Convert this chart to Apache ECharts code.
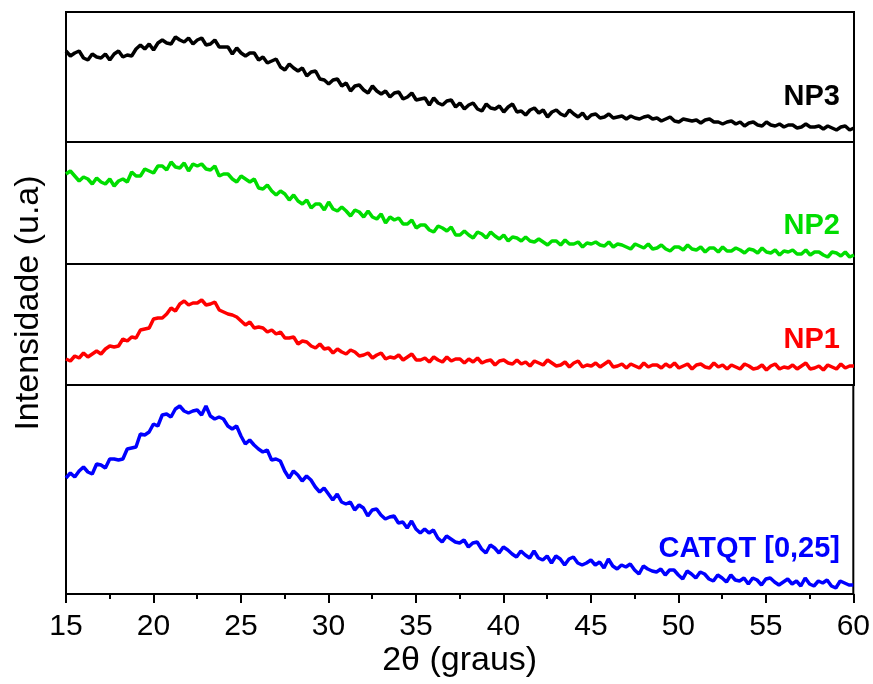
<!DOCTYPE html>
<html><head><meta charset="utf-8">
<script src="https://cdn.jsdelivr.net/npm/echarts@6/dist/echarts.min.js"></script>
<style>html,body{margin:0;padding:0;background:#fff}#c{width:873px;height:684px}</style>
</head><body><div id="c"></div>
<script>
// 2θ angles (degrees)
const angles = [
15,15.25,15.5,15.75,16,16.25,16.5,16.75,17,17.25,17.5,17.75,18,18.25,18.5,18.75,19,19.25,19.5,19.75,
20,20.25,20.5,20.75,21,21.25,21.5,21.75,22,22.25,22.5,22.75,23,23.25,23.5,23.75,24,24.25,24.5,24.75,
25,25.25,25.5,25.75,26,26.25,26.5,26.75,27,27.25,27.5,27.75,28,28.25,28.5,28.75,29,29.25,29.5,29.75,
30,30.25,30.5,30.75,31,31.25,31.5,31.75,32,32.25,32.5,32.75,33,33.25,33.5,33.75,34,34.25,34.5,34.75,
35,35.25,35.5,35.75,36,36.25,36.5,36.75,37,37.25,37.5,37.75,38,38.25,38.5,38.75,39,39.25,39.5,39.75,
40,40.25,40.5,40.75,41,41.25,41.5,41.75,42,42.25,42.5,42.75,43,43.25,43.5,43.75,44,44.25,44.5,44.75,
45,45.25,45.5,45.75,46,46.25,46.5,46.75,47,47.25,47.5,47.75,48,48.25,48.5,48.75,49,49.25,49.5,49.75,
50,50.25,50.5,50.75,51,51.25,51.5,51.75,52,52.25,52.5,52.75,53,53.25,53.5,53.75,54,54.25,54.5,54.75,
55,55.25,55.5,55.75,56,56.25,56.5,56.75,57,57.25,57.5,57.75,58,58.25,58.5,58.75,59,59.25,59.5,59.75,
60];
// intensities (a.u., offset within each stacked panel), one value per angle
const np3 = [
91,86,89,91, 84,82,88,85, 84,88,82,88, 91,85,87,86, 93,97,93,98,
92,99,102,99, 98,105,102,100, 104,98,102,104, 97,98,102,95, 95,95,88,94,
89,86,89,89, 82,85,79,81, 83,75,72,78, 74,71,74,66, 70,71,63,62,
58,62,63,56, 59,51,56,57, 52,49,56,51, 48,51,45,49, 50,43,45,49,
42,43,44,37, 44,39,37,41, 42,35,39,33, 37,39,33,31, 38,34,33,36,
30,35,38,30, 31,27,32,34, 29,32,25,30, 32,28,26,32, 28,25,29,23,
27,28,24,25, 28,24,25,26, 23,26,24,23, 25,26,23,24, 21,23,25,21,
20,23,22,21, 22,19,22,23, 20,20,18,20, 21,18,20,16, 19,20,17,16,
20,17,16,18, 15,17,17,14, 15,18,15,15, 16,13,16,14, 12,15,16,12,
14];
const np2 = [
90,93,88,83, 87,85,80,86, 82,80,85,78, 83,85,82,92, 88,88,95,93,
91,98,98,94, 102,97,96,101, 93,100,98,100, 95,94,98,88, 90,90,85,82,
88,85,82,85, 76,75,79,73, 69,73,70,64, 69,63,60,64, 56,60,60,54,
62,55,53,57, 53,48,54,52, 47,53,47,45, 50,41,47,44, 46,40,40,44,
36,39,39,34, 32,38,36,33, 37,29,29,33, 29,26,32,30, 26,32,28,25,
29,23,27,26, 23,27,23,22, 25,22,19,23, 23,19,24,20, 20,22,17,21,
20,22,19,18, 22,17,20,19, 17,15,20,18, 16,20,15,16, 19,15,13,17,
17,14,19,15, 14,17,12,16, 16,12,17,13, 13,16,14,11, 15,14,11,16,
12,11,14,9, 13,12,14,10, 10,14,9,12, 12,9,7,12, 11,8,12,7,
9];
const np1 = [
26,24,29,27, 32,28,31,34, 31,36,39,38, 39,46,44,48, 47,55,56,57,
66,67,67,71, 77,74,81,84, 80,82,82,85, 80,81,83,75, 73,71,70,68,
64,60,63,57, 58,57,53,55, 51,53,47,47, 48,41,44,43, 39,37,41,36,
37,32,36,33, 31,35,33,29, 30,32,27,30, 32,26,28,27, 30,25,28,31,
25,25,27,23, 28,25,23,28, 24,26,26,22, 26,23,27,22, 24,25,20,24,
25,22,21,25, 21,23,19,24, 22,20,25,22, 19,20,23,18, 22,24,18,20,
19,22,18,21, 24,18,19,21, 17,21,19,17, 22,18,20,20, 17,21,18,22,
17,19,21,16, 20,21,18,17, 22,18,20,16, 20,18,16,21, 19,16,17,20,
15,19,21,16, 18,17,20,16, 19,22,16,17, 19,15,20,18, 16,21,17,19,
19];
const catqt = [
116,121,117,123, 127,122,120,130, 129,126,135,135, 134,135,145,146, 147,160,159,162,
170,168,179,180, 177,185,188,183, 181,183,184,179, 188,178,175,177, 175,168,165,168,
158,150,154,149, 145,142,144,134, 135,133,123,116, 123,119,113,118, 114,107,102,106,
100,94,100,92, 90,92,84,89, 86,78,84,85, 79,75,77,78, 71,72,66,73,
65,61,65,61, 64,56,52,58, 55,52,51,54, 47,51,52,45, 41,49,46,41,
47,44,40,37, 43,39,36,43, 36,34,38,31, 38,35,29,35, 37,31,29,31,
34,29,32,26, 35,28,25,29, 27,30,24,20, 28,25,23,22, 25,19,24,24,
19,15,23,20, 16,22,20,15, 13,19,16,12, 19,14,13,16, 10,16,14,9,
15,16,12,9, 12,15,10,13, 8,16,10,8, 13,11,14,8, 6,13,11,9,
9];
const seriesNames = ['NP3','NP2','NP1','CATQT [0,25]'];
const seriesColors = ['#000000','#00DD00','#FF0000','#0000FF'];
const seriesData = [np3, np2, np1, catqt];
const xTicks = [15,20,25,30,35,40,45,50,55,60];

const panels = [
  {top:12, height:130, ymax:130, labelY:97},
  {top:142, height:122, ymax:122, labelY:226},
  {top:264, height:121, ymax:121, labelY:340},
  {top:385, height:209, ymax:209, labelY:549}
];
const L = 66, R = 19;
const chart = echarts.init(document.getElementById('c'), null, {renderer:'canvas'});
const grids = [], xAxes = [], yAxes = [], series = [], graphics = [];
panels.forEach((p, i) => {
  grids.push({left:L, right:R, top:p.top, height:p.height, show:true, borderColor:'#000', borderWidth:2, backgroundColor:'transparent', containLabel:false});
  const last = i === panels.length - 1;
  xAxes.push({
    type:'value', gridIndex:i, min:15, max:60, interval:5, show:true,
    axisLine:{show:last, onZero:false, lineStyle:{color:'#000', width:2}},
    axisTick:{show:last, inside:false, length:9, lineStyle:{color:'#000', width:2}},
    minorTick:{show:last, splitNumber:2, length:5, lineStyle:{color:'#000', width:2}},
    splitLine:{show:false}, minorSplitLine:{show:false},
    axisLabel:{show:last, color:'#000', fontSize:30, fontFamily:'Liberation Sans, Arial', margin:18,
      formatter: v => xTicks.indexOf(v) >= 0 ? String(v) : ''},
    name: last ? '2θ (graus)' : '', nameLocation:'middle', nameGap:50,
    nameTextStyle:{color:'#000', fontSize:34, fontFamily:'Liberation Sans, Arial'}
  });
  yAxes.push({type:'value', gridIndex:i, min:0, max:p.ymax, show:false});
  series.push({
    type:'line', name:seriesNames[i], xAxisIndex:i, yAxisIndex:i,
    data: angles.map((a, k) => [a, seriesData[i][k]]),
    showSymbol:false, symbol:'none', lineStyle:{color:seriesColors[i], width:3.5},
    clip:true, animation:false
  });
  graphics.push({
    type:'text', x:840, y:p.labelY,
    style:{text:seriesNames[i], fill:seriesColors[i], font:'bold 29px "Liberation Sans", Arial',
      align:'right', verticalAlign:'middle', textAlign:'right', textVerticalAlign:'middle'}
  });
});
graphics.push({
  type:'text', x:29, y:303, rotation:Math.PI/2,
  style:{text:'Intensidade (u.a)', fill:'#000', font:'34px "Liberation Sans", Arial',
    align:'center', verticalAlign:'middle', textAlign:'center', textVerticalAlign:'middle'}
});
chart.setOption({
  animation:false,
  backgroundColor:'#fff',
  grid:grids, xAxis:xAxes, yAxis:yAxes, series:series, graphic:graphics
});
</script></body></html>
